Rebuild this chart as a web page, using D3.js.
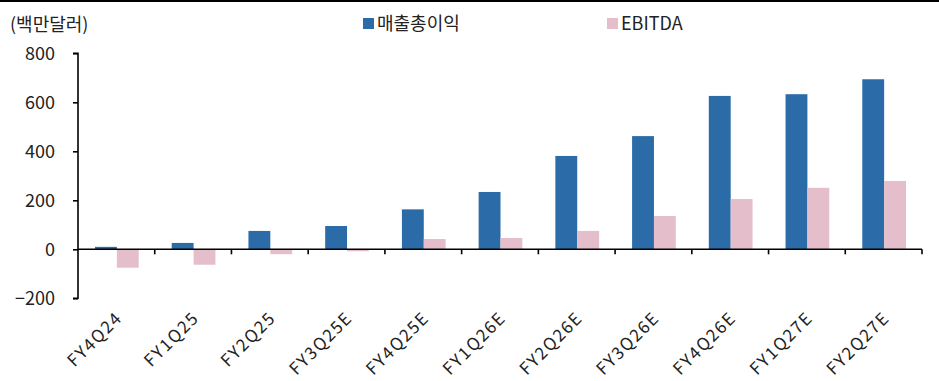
<!DOCTYPE html>
<html>
<head>
<meta charset="utf-8">
<script src="https://cdn.jsdelivr.net/npm/d3@7"></script>
<style>
  html, body { margin: 0; padding: 0; background: #fff; }
  svg { display: block; font-family: "Noto Sans CJK KR", "Noto Sans", sans-serif; }
</style>
</head>
<body>
<svg id="chart" width="939" height="381"></svg>
<script>
// Quarterly figures, USD millions
const categories = ["FY4Q24", "FY1Q25", "FY2Q25", "FY3Q25E", "FY4Q25E", "FY1Q26E",
                    "FY2Q26E", "FY3Q26E", "FY4Q26E", "FY1Q27E", "FY2Q27E"];
const grossProfit = [10, 26, 75, 95, 163, 234, 381, 462, 626, 633, 694];
const ebitda = [-75, -63, -20, -8, 42, 46, 75, 136, 205, 251, 279];
const seriesNames = ["매출총이익", "EBITDA"];
const yTicks = [-200, 0, 200, 400, 600, 800];
const unitLabel = "(백만달러)";

const colors = ["#2a6ba8", "#e4bfcb"];
const textColor = "#222";
const svg = d3.select("#chart");

// top rule
svg.append("rect").attr("x", 0).attr("y", 0).attr("width", 939).attr("height", 2).attr("fill", "#000");

const left = 78, right = 922;
const y = d3.scaleLinear().domain([-200, 800]).range([298.3, 53.3]);
const x0 = d3.scaleBand().domain(categories).range([left, right]).paddingInner(0).paddingOuter(0);
const x1 = d3.scaleBand().domain(seriesNames).range([17, x0.bandwidth() - 16]).padding(0);

// bars
const data = categories.map((c, i) => ({ cat: c, vals: [grossProfit[i], ebitda[i]] }));
const groups = svg.append("g").selectAll("g").data(data).join("g")
  .attr("transform", d => `translate(${x0(d.cat)},0)`);
groups.selectAll("rect").data(d => d.vals.map((v, k) => ({ v, k })))
  .join("rect")
  .attr("x", d => x1(seriesNames[d.k]))
  .attr("width", x1.bandwidth())
  .attr("y", d => y(Math.max(0, d.v)))
  .attr("height", d => Math.abs(y(d.v) - y(0)))
  .attr("fill", d => colors[d.k]);

// y axis
const yAxis = d3.axisLeft(y).tickValues(yTicks).tickSize(5).tickPadding(18).tickFormat(d3.format("d"));
const yg = svg.append("g").attr("transform", `translate(${left},0)`).call(yAxis);
yg.select(".domain").attr("stroke", "#000").attr("stroke-width", 1.6).attr("d", `M-5,${y(800)}H0V${y(-200)}H-5`);
yg.selectAll(".tick line").attr("stroke", "#000").attr("stroke-width", 1.6);
yg.selectAll(".tick text").attr("font-size", 18).attr("fill", textColor)
  .attr("font-family", "'Noto Sans CJK KR', sans-serif").text(d => d < 0 ? "−" + Math.abs(d) : d);

// x axis at zero, ticks on band boundaries
const xg = svg.append("g").attr("transform", `translate(0,${y(0)})`);
xg.append("line").attr("x1", left).attr("x2", right).attr("stroke", "#000").attr("stroke-width", 1.6);
const bounds = categories.map(c => x0(c)).concat([right]);
xg.selectAll("line.tk").data(bounds.slice(1)).join("line").attr("class", "tk")
  .attr("x1", d => d).attr("x2", d => d).attr("y1", 0).attr("y2", 5)
  .attr("stroke", "#000").attr("stroke-width", 1.6);

// rotated category labels
svg.append("g").selectAll("text").data(categories).join("text")
  .attr("transform", d => `translate(${x0(d) + x0.bandwidth() / 2 + 7},${319}) rotate(-45)`)
  .attr("text-anchor", "end")
  .attr("font-size", 17)
  .attr("letter-spacing", 1.6)
  .attr("fill", textColor)
  .text(d => d);

// unit label
svg.append("text").attr("x", 10).attr("y", 31).attr("font-size", 18).attr("fill", textColor).text(unitLabel);

// legend
const legendX = [363, 607];
const lg = svg.append("g").selectAll("g").data(seriesNames).join("g")
  .attr("transform", (d, i) => `translate(${legendX[i]},18)`);
lg.append("rect").attr("width", 11).attr("height", 11).attr("fill", (d, i) => colors[i]);
lg.append("text").attr("x", 14).attr("y", 12).attr("font-size", 18).attr("fill", textColor).text(d => d);
</script>
</body>
</html>
